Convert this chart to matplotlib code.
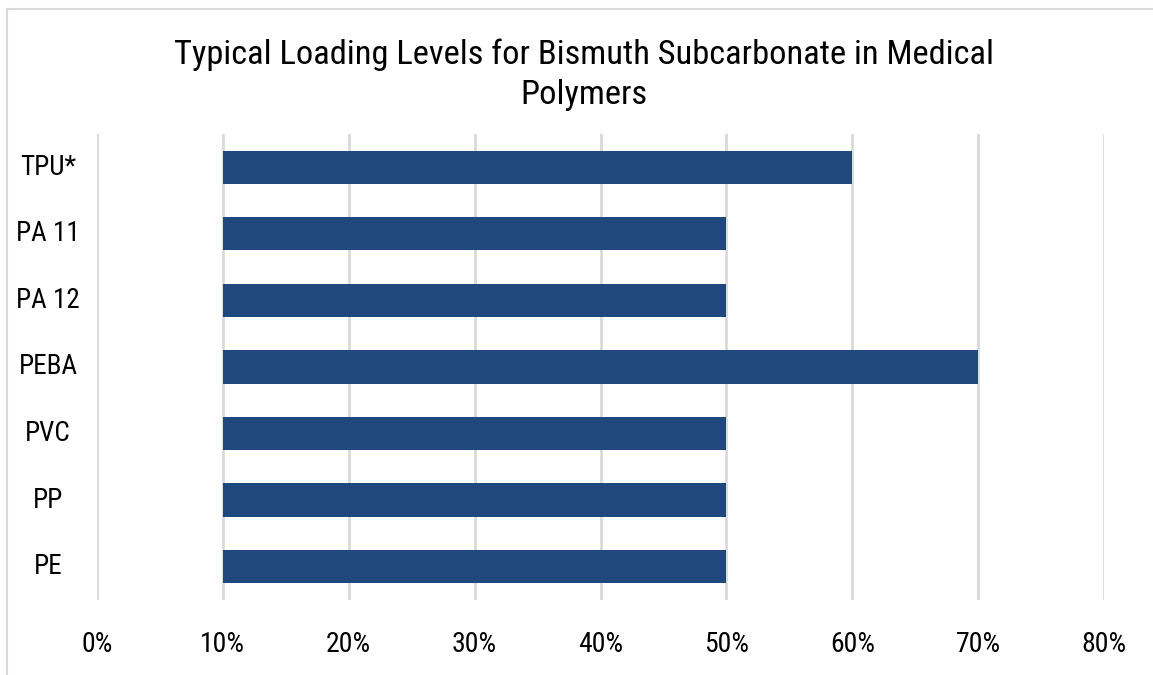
import matplotlib
matplotlib.use("Agg")
import matplotlib.pyplot as plt
from matplotlib.patches import Rectangle
from matplotlib import font_manager

categories = ["TPU*", "PA 11", "PA 12", "PEBA", "PVC", "PP", "PE"]
start_values = [10, 10, 10, 10, 10, 10, 10]
end_values = [60, 50, 50, 70, 50, 50, 50]
x_ticks = [0, 10, 20, 30, 40, 50, 60, 70, 80]
x_tick_labels = ["0%", "10%", "20%", "30%", "40%", "50%", "60%", "70%", "80%"]
title = "Typical Loading Levels for Bismuth Subcarbonate in Medical\nPolymers"

names = {f.name for f in font_manager.fontManager.ttflist}
fam = ["Roboto Condensed", "Liberation Sans", "DejaVu Sans"]
fam = [f for f in fam if f in names] or ["DejaVu Sans"]
plt.rcParams["font.family"] = fam

W, H = 1153, 675
fig = plt.figure(figsize=(W / 100, H / 100), dpi=100)
fig.patches.append(Rectangle((7 / W, -0.1), 1.2, 1 - 9 / H + 0.1, transform=fig.transFigure,
                             fill=False, edgecolor="#d9d9d9", linewidth=1.5))

ax = fig.add_axes([97 / W, 1 - 600 / H, (1104 - 97) / W, (600 - 134) / H])
n = len(categories)
ypos = list(range(n - 1, -1, -1))
widths = [e - s for s, e in zip(start_values, end_values)]
ax.barh(ypos, widths, left=start_values, height=0.5, color="#1f497d", zorder=3)
ax.set_xlim(0, 80)
ax.set_ylim(-0.5, n - 0.5)
ax.set_xticks(x_ticks)
ax.set_xticklabels(x_tick_labels, fontsize=20)
ax.set_yticks(ypos)
ax.set_yticklabels([])
for y, c in zip(ypos, categories):
    ax.text(-0.0485, y, c, transform=ax.get_yaxis_transform(), ha="center", va="center",
            fontsize=19.5)
ax.tick_params(length=0, pad=22)
ax.grid(axis="x", color="#d9d9d9", linewidth=2, zorder=0)
for s in ax.spines.values():
    s.set_visible(False)

fig.text(584 / W, 1 - 75 / H, title, ha="center", va="center", fontsize=24.8, linespacing=1.33)

fig.savefig("out.png", dpi=100)
